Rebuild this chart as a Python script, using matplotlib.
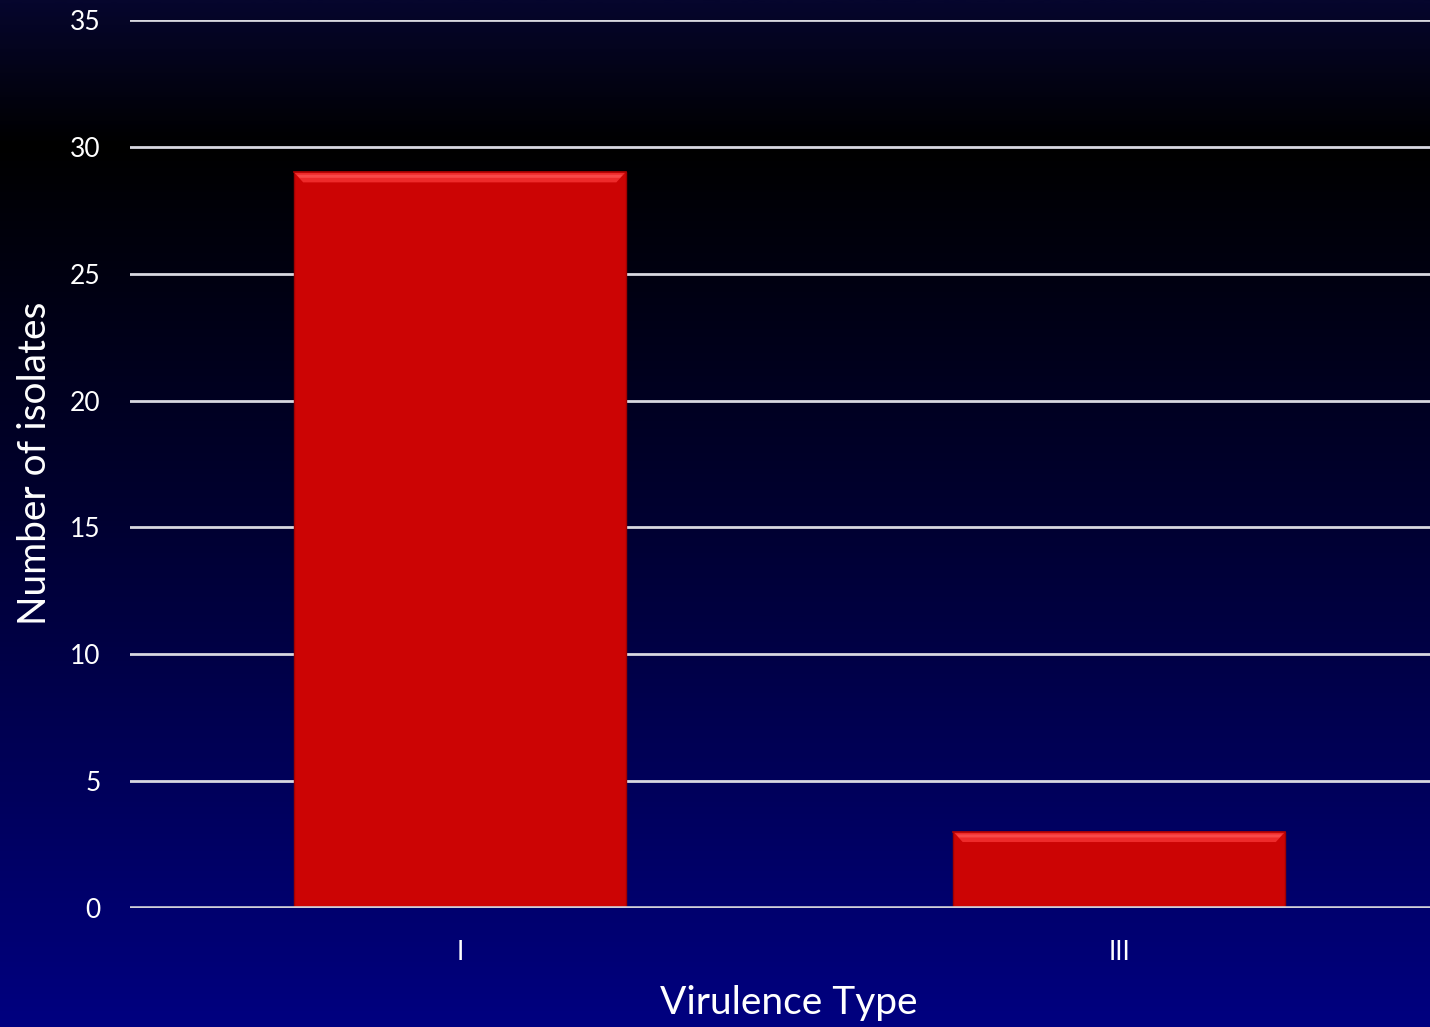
import numpy as np
import matplotlib
matplotlib.use("Agg")
import matplotlib.pyplot as plt
from matplotlib.colors import LinearSegmentedColormap
from matplotlib.patches import Polygon

categories = ["I", "III"]
values = [29, 3]
yticks = [0, 5, 10, 15, 20, 25, 30, 35]
xlabel = "Virulence Type"
ylabel = "Number of isolates"

plt.rcParams['font.family'] = ['Lato', 'DejaVu Sans']

W, H = 1430, 1027
fig = plt.figure(figsize=(W / 100, H / 100), dpi=100)

# background gradient
bg = fig.add_axes([0, 0, 1, 1], zorder=-10)
cmap = LinearSegmentedColormap.from_list(
    "bgc",
    [(0.0, (0, 0, 128 / 255)),
     (0.5, (0, 0, 48 / 255)),
     (0.86, (0, 0, 0)),
     (1.0, (6 / 255, 6 / 255, 45 / 255))])
grad = np.linspace(0, 1, 512).reshape(-1, 1)
bg.imshow(grad, aspect="auto", cmap=cmap, origin="lower", extent=[0, 1, 0, 1])
bg.set_axis_off()

left = 130 / W
right = 1449 / W
bottom = 1 - 908 / H
top = 1 - 20 / H
ax = fig.add_axes([left, bottom, right - left, top - bottom])
ax.set_facecolor("none")

x = np.arange(len(categories))
bars = ax.bar(x, values, width=0.503, color="#CC0404", edgecolor="#A00000",
              linewidth=1.0, zorder=3)

# bevel on top of each bar
for b in bars:
    x0, y0 = b.get_x(), b.get_y()
    w, h = b.get_width(), b.get_height()
    dy = 0.40
    dx = w * 0.028
    poly = Polygon([(x0, y0 + h), (x0 + w, y0 + h), (x0 + w - dx, y0 + h - dy),
                    (x0 + dx, y0 + h - dy)], closed=True,
                   facecolor="#EE2A2A", edgecolor="none", zorder=4)
    ax.add_patch(poly)
    poly2 = Polygon([(x0 + dx * 0.3, y0 + h - dy * 0.25), (x0 + w - dx * 0.3, y0 + h - dy * 0.25),
                     (x0 + w - dx * 0.6, y0 + h - dy * 0.55), (x0 + dx * 0.6, y0 + h - dy * 0.55)],
                    closed=True, facecolor="#F84848", edgecolor="none", zorder=4)
    ax.add_patch(poly2)
    ax.plot([x0, x0 + w], [y0 + h, y0 + h], color="#B00000", lw=1.2, zorder=5)

ax.set_xlim(-0.5, 1.5)
ax.set_ylim(0, 35)
ax.set_yticks(yticks)
ax.set_xticks(x)
ax.set_xticklabels(categories)
ax.yaxis.grid(True, color="#D8D8E0", linewidth=2.0, zorder=1)
ax.set_axisbelow(True)
for s in ax.spines.values():
    s.set_visible(False)
ax.axhline(0, color="#D0D0D8", linewidth=2.6, zorder=6)
ax.tick_params(axis="both", length=0, colors="white", labelsize=19)
ax.tick_params(axis="y", pad=21)
ax.tick_params(axis="x", pad=23)

fig.text(789 / W, 1 - 1003 / H, xlabel, color="white", fontsize=28,
         ha="center", va="center")
fig.text(35 / W, 1 - 463 / H, ylabel, color="white", fontsize=28,
         ha="center", va="center", rotation=90)

fig.savefig("out.png", dpi=100)
